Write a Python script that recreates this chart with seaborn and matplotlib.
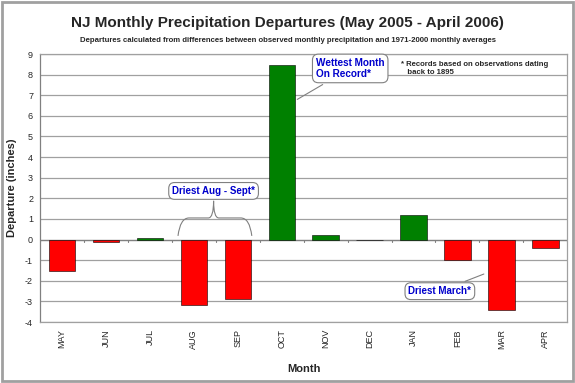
import matplotlib
matplotlib.use("Agg")
import matplotlib.pyplot as plt
import matplotlib.patches as mpatches
from matplotlib.path import Path
import seaborn as sns
import pandas as pd

# data
months = ["MAY", "JUN", "JUL", "AUG", "SEP", "OCT",
          "NOV", "DEC", "JAN", "FEB", "MAR", "APR"]
departures = [-1.50, -0.12, 0.07, -3.15, -2.87, 8.45,
              0.22, -0.04, 1.20, -1.00, -3.40, -0.42]
yticks = list(range(-4, 10))

df = pd.DataFrame({"month": months, "departure": departures})
bar_colors = ["#008000" if v > 0 else "#FF0000" for v in departures]

sns.set_theme(style="white")
plt.rcParams["font.family"] = ["Liberation Sans", "DejaVu Sans"]

fig = plt.figure(figsize=(5.75, 3.83), dpi=100)
ax = fig.add_axes([0.0696, 0.159, 0.917, 0.700])

sns.barplot(data=df, x="month", y="departure", hue="month",
            palette=bar_colors, legend=False, width=0.6, saturation=1,
            edgecolor="black", linewidth=0.4, ax=ax, zorder=3)

ax.set_ylim(-4, 9)
ax.set_yticks(yticks)
ax.set_yticklabels([str(t) for t in yticks], fontsize=6.5)
ax.tick_params(axis="x", labelrotation=90, labelsize=6.5, length=0, pad=5)
ax.tick_params(axis="y", length=3, color="#808080", direction="out", pad=2)
ax.set_xlim(-0.5, len(months) - 0.5)

ax.yaxis.grid(True, color="#A0A0A0", linewidth=0.9, zorder=0)
ax.set_axisbelow(True)
for side in ["top", "right", "bottom"]:
    ax.spines[side].set_color("#A0A0A0")
    ax.spines[side].set_linewidth(0.9)
ax.spines["left"].set_color("#808080")
ax.spines["left"].set_linewidth(0.9)

# zero line with small category ticks
ax.axhline(0, color="#808080", linewidth=0.9, zorder=2)
for i in range(len(months) + 1):
    ax.plot([i - 0.5, i - 0.5], [0, -0.12], color="#808080",
            linewidth=0.8, zorder=2)

ax.set_xlabel("Month", fontsize=8, fontweight="bold", labelpad=11)
ax.set_ylabel("Departure (inches)", fontsize=8, fontweight="bold", labelpad=6)

fig.text(0.5, 0.940, "NJ Monthly Precipitation Departures (May 2005 - April 2006)",
         ha="center", va="center", fontsize=11, fontweight="bold")
fig.text(0.5, 0.893,
         "Departures calculated from differences between observed monthly "
         "precipitation and 1971-2000 monthly averages",
         ha="center", va="center", fontsize=5.6, fontweight="bold")

ax.text(0.685, 0.975, "* Records based on observations dating\n   back to 1895",
        transform=ax.transAxes, ha="left", va="top", fontsize=5.6,
        fontweight="bold", linespacing=1.2)

box = dict(boxstyle="round,pad=0.35,rounding_size=0.6", fc="white",
           ec="#808080", lw=0.8)
arrow = dict(arrowstyle="-", color="#808080", lw=0.8)

ax.annotate("Wettest Month\nOn Record*", xy=(5.30, 6.73), xytext=(5.78, 8.3),
            ha="left", va="center", fontsize=7.2, fontweight="bold",
            color="#0000CC", bbox=box, arrowprops=arrow, zorder=5)
ax.annotate("Driest March*", xy=(9.66, -1.62), xytext=(8.6, -2.5),
            ha="center", va="center", fontsize=7, fontweight="bold",
            color="#0000CC", bbox=box, arrowprops=arrow, zorder=5)
ax.text(3.45, 2.36, "Driest Aug - Sept*", ha="center", va="center",
        fontsize=7, fontweight="bold", color="#0000CC", bbox=box, zorder=5)

# curly brace over AUG-SEP
xl, xm, xr = 2.64, 3.45, 4.32
yb, yh, yt = 0.18, 1.05, 1.88
verts = [(xl, yb), (xl + 0.05, yh), (xl + 0.25, yh),
         (xm - 0.12, yh), (xm, yh), (xm, yt),
         (xm, yh), (xm + 0.12, yh), (xr - 0.25, yh),
         (xr - 0.05, yh), (xr, yb)]
codes = [Path.MOVETO, Path.CURVE3, Path.CURVE3,
         Path.LINETO, Path.CURVE3, Path.CURVE3,
         Path.CURVE3, Path.CURVE3, Path.LINETO,
         Path.CURVE3, Path.CURVE3]
ax.add_patch(mpatches.PathPatch(Path(verts, codes), fc="none",
                                ec="#808080", lw=0.8, zorder=4))

fig.patches.append(mpatches.Rectangle((0.004, 0.005), 0.992, 0.99,
                                      transform=fig.transFigure, fill=False,
                                      ec="#A0A0A0", lw=2))

fig.savefig("out.png", dpi=100)
